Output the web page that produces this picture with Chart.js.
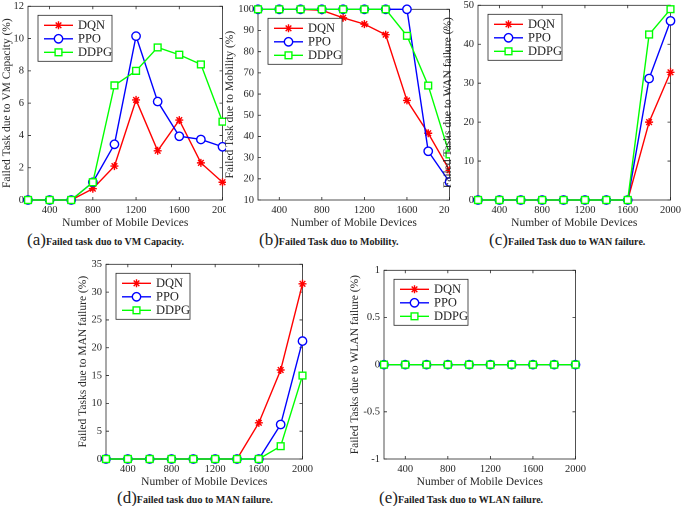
<!DOCTYPE html>
<html>
<head>
<meta charset="utf-8">
<script src="https://cdn.jsdelivr.net/npm/chart.js@4.4.0/dist/chart.umd.min.js"></script>
<style>
    body { margin: 0; width: 685px; height: 506px; background: #fff; position: relative; overflow: hidden; font-family: "Liberation Serif", serif; }
    .panel { position: absolute; }
    .cap { position: absolute; white-space: nowrap; color: #222; line-height: 20px; font-size: 10px; font-weight: bold; }
    .cap span { font-size: 17px; font-weight: normal; }
</style>
</head>
<body>
<div class="cap" style="left:27px; top:230px;"><span>(a)</span>Failed task duo to VM Capacity.</div>
<div class="cap" style="left:259px; top:230px;"><span>(b)</span>Failed Task duo to Mobility.</div>
<div class="cap" style="left:489px; top:230px;"><span>(c)</span>Failed Task duo to WAN failure.</div>
<div class="cap" style="left:117px; top:488px;"><span>(d)</span>Failed task duo to MAN failure.</div>
<div class="cap" style="left:379px; top:488px;"><span>(e)</span>Failed Task duo to WLAN failure.</div>
<script>
// x axis: number of mobile devices
const devices = [200, 400, 600, 800, 1000, 1200, 1400, 1600, 1800, 2000];
const xTicks = [400, 800, 1200, 1600, 2000];
const xTitle = 'Number of Mobile Devices';
const seriesNames = ['DQN', 'PPO', 'DDPG'];

// (a) VM capacity
const vmDQN  = [0, 0, 0, 0.7, 2.1, 6.2, 3.05, 4.95, 2.3, 1.1];
const vmPPO  = [0, 0, 0, 1.1, 3.45, 10.15, 6.1, 3.95, 3.75, 3.3];
const vmDDPG = [0, 0, 0, 1.1, 7.1, 8.0, 9.45, 9.0, 8.4, 4.85];
const vmTicks = [0, 2, 4, 6, 8, 10, 12];

// (b) mobility
const mobDQN  = [100, 100, 100, 99.5, 96, 93, 88, 57, 41.5, 24];
const mobPPO  = [100, 100, 100, 100, 100, 100, 100, 100, 33, 18.5];
const mobDDPG = [100, 100, 100, 100, 100, 100, 100, 87.5, 64, 31.5];
const mobTicks = [10, 20, 30, 40, 50, 60, 70, 80, 90, 100];

// (c) WAN failure
const wanDQN  = [0, 0, 0, 0, 0, 0, 0, 0, 20, 32.8];
const wanPPO  = [0, 0, 0, 0, 0, 0, 0, 0, 31.2, 46];
const wanDDPG = [0, 0, 0, 0, 0, 0, 0, 0, 42.5, 49];
const wanTicks = [0, 10, 20, 30, 40, 50];

// (d) MAN failure
const manDQN  = [0, 0, 0, 0, 0, 0, 0, 6.5, 16, 31.5];
const manPPO  = [0, 0, 0, 0, 0, 0, 0, 0, 6.2, 21.2];
const manDDPG = [0, 0, 0, 0, 0, 0, 0, 0, 2.3, 15];
const manTicks = [0, 5, 10, 15, 20, 25, 30, 35];

// (e) WLAN failure
const wlanDQN  = [0, 0, 0, 0, 0, 0, 0, 0, 0, 0];
const wlanPPO  = [0, 0, 0, 0, 0, 0, 0, 0, 0, 0];
const wlanDDPG = [0, 0, 0, 0, 0, 0, 0, 0, 0, 0];
const wlanTicks = [-1, -0.5, 0, 0.5, 1];

const FONT = '"Liberation Serif", "Times New Roman", serif';
const TEXT = '#262626';

const styles = [
    { color: '#ff0000', pointStyle: 'star', radius: 4 },
    { color: '#0000ff', pointStyle: 'circle', radius: 4.2 },
    { color: '#00ff00', pointStyle: 'rect', radius: 4.8 }
];

// box + inner ticks + x title, MATLAB style
const framePlugin = {
    id: 'frame',
    beforeDatasetsDraw(chart) {
        const { ctx, chartArea: a, scales } = chart;
        ctx.save();
        ctx.strokeStyle = TEXT;
        ctx.lineWidth = 0.8;
        ctx.strokeRect(a.left, a.top, a.right - a.left, a.bottom - a.top);
        ctx.beginPath();
        scales.x.ticks.forEach(t => {
            const px = scales.x.getPixelForValue(t.value);
            ctx.moveTo(px, a.bottom); ctx.lineTo(px, a.bottom - 3);
            ctx.moveTo(px, a.top); ctx.lineTo(px, a.top + 3);
        });
        scales.y.ticks.forEach(t => {
            const py = scales.y.getPixelForValue(t.value);
            ctx.moveTo(a.left, py); ctx.lineTo(a.left + 3, py);
            ctx.moveTo(a.right, py); ctx.lineTo(a.right - 3, py);
        });
        ctx.stroke();
        ctx.fillStyle = TEXT;
        ctx.font = '11.5px ' + FONT;
        ctx.textAlign = 'center';
        ctx.textBaseline = 'middle';
        ctx.fillText(xTitle, (a.left + a.right) / 2, a.bottom + 23);
        ctx.restore();
    }
};

// legend with line + marker inside a box
const boxLegend = {
    id: 'boxLegend',
    afterDatasetsDraw(chart) {
        const { ctx, chartArea: a } = chart;
        const x0 = a.left + 10, y0 = a.top + 9, w = 74, h = 46;
        ctx.save();
        ctx.fillStyle = '#fff';
        ctx.fillRect(x0, y0, w, h);
        ctx.strokeStyle = TEXT;
        ctx.lineWidth = 0.8;
        ctx.strokeRect(x0, y0, w, h);
        chart.data.datasets.forEach((ds, i) => {
            const y = y0 + 10 + i * 13.5;
            ctx.strokeStyle = ds.borderColor;
            ctx.lineWidth = ds.borderWidth;
            ctx.beginPath();
            ctx.moveTo(x0 + 6, y); ctx.lineTo(x0 + 35, y);
            ctx.stroke();
            ctx.fillStyle = '#fff';
            Chart.helpers.drawPoint(ctx, { pointStyle: ds.pointStyle, radius: ds.pointRadius, borderWidth: ds.pointBorderWidth, rotation: 0 }, x0 + 20.5, y);
            ctx.fillStyle = TEXT;
            ctx.font = '12.5px ' + FONT;
            ctx.textBaseline = 'middle';
            ctx.fillText(ds.label, x0 + 40, y + 0.5);
        });
        ctx.restore();
    }
};

function makePanel(p) {
    const padTop = 8, xh = 30;
    const yw = p.L - p.cl;
    const w = p.R + p.padR - p.cl;
    const h = p.B - p.T + padTop + xh;

    const div = document.createElement('div');
    div.className = 'panel';
    div.style.left = p.cl + 'px';
    div.style.top = (p.T - padTop) + 'px';
    div.style.width = w + 'px';
    div.style.height = h + 'px';
    div.style.background = `linear-gradient(to right, rgba(255,255,255,0) ${p.cut}px, #fff ${p.cut}px)`;
    const cv = document.createElement('canvas');
    cv.width = w;
    cv.height = h;
    cv.style.width = w + 'px';
    cv.style.height = h + 'px';
    div.appendChild(cv);
    document.body.appendChild(div);

    const datasets = p.series.map((vals, i) => ({
        label: seriesNames[i],
        data: vals.map((v, j) => ({ x: devices[j], y: v })),
        borderColor: styles[i].color,
        backgroundColor: '#fff',
        pointBackgroundColor: '#fff',
        pointBorderColor: styles[i].color,
        pointStyle: styles[i].pointStyle,
        pointRadius: styles[i].radius,
        pointBorderWidth: 1.4,
        borderWidth: 1.4,
        tension: 0,
        clip: false,
        order: 3 - i
    }));

    const noGrid = { display: false, drawTicks: false, tickLength: 0 };

    new Chart(cv, {
        type: 'line',
        data: { datasets },
        options: {
            responsive: false,
            animation: false,
            devicePixelRatio: 2,
            layout: { padding: { left: 0, top: padTop, right: p.padR, bottom: 0 } },
            plugins: { legend: { display: false }, tooltip: { enabled: false } },
            scales: {
                x: {
                    type: 'linear',
                    min: 200, max: 2000,
                    afterBuildTicks: s => { s.ticks = xTicks.map(v => ({ value: v })); },
                    afterFit: s => { s.height = xh; },
                    grid: noGrid,
                    border: { display: false },
                    ticks: { font: { family: FONT, size: 10.5 }, color: TEXT, padding: 4, maxRotation: 0, autoSkip: false, callback: v => String(v) },
                    title: { display: false }
                },
                y: {
                    min: p.ticks[0], max: p.ticks[p.ticks.length - 1],
                    afterBuildTicks: s => { s.ticks = p.ticks.map(v => ({ value: v })); },
                    afterFit: s => { s.width = yw; },
                    grid: noGrid,
                    border: { display: false },
                    ticks: { font: { family: FONT, size: 10.5 }, color: TEXT, padding: 4, callback: v => String(v) },
                    title: { display: true, text: p.yTitle, font: { family: FONT, size: 11.5 }, color: TEXT, padding: 0 }
                }
            }
        },
        plugins: [framePlugin, boxLegend]
    });
}

const panels = [
    { cl: 0,   cut: 0, L: 28,  R: 223, T: 4,   B: 200, padR: 14, ticks: vmTicks,   series: [vmDQN, vmPPO, vmDDPG],       yTitle: 'Failed Task due to VM Capacity (%)' },
    { cl: 223, cut: 3, L: 258, R: 450, T: 7,   B: 200, padR: 14, ticks: mobTicks,  series: [mobDQN, mobPPO, mobDDPG],    yTitle: 'Failed Task due to Mobility (%)' },
    { cl: 441, cut: 9, L: 478, R: 675, T: 3,   B: 200, padR: 10, ticks: wanTicks,  series: [wanDQN, wanPPO, wanDDPG],    yTitle: 'Failed Tasks due to WAN failure (%)' },
    { cl: 76,  cut: 0, L: 106, R: 303, T: 262, B: 459, padR: 14, ticks: manTicks,  series: [manDQN, manPPO, manDDPG],    yTitle: 'Failed Tasks due to MAN failure (%)' },
    { cl: 348, cut: 0, L: 384, R: 576, T: 268, B: 459, padR: 14, ticks: wlanTicks, series: [wlanDQN, wlanPPO, wlanDDPG], yTitle: 'Failed Tasks due to WLAN failure (%)' }
];

panels.forEach(makePanel);
</script>
</body>
</html>
